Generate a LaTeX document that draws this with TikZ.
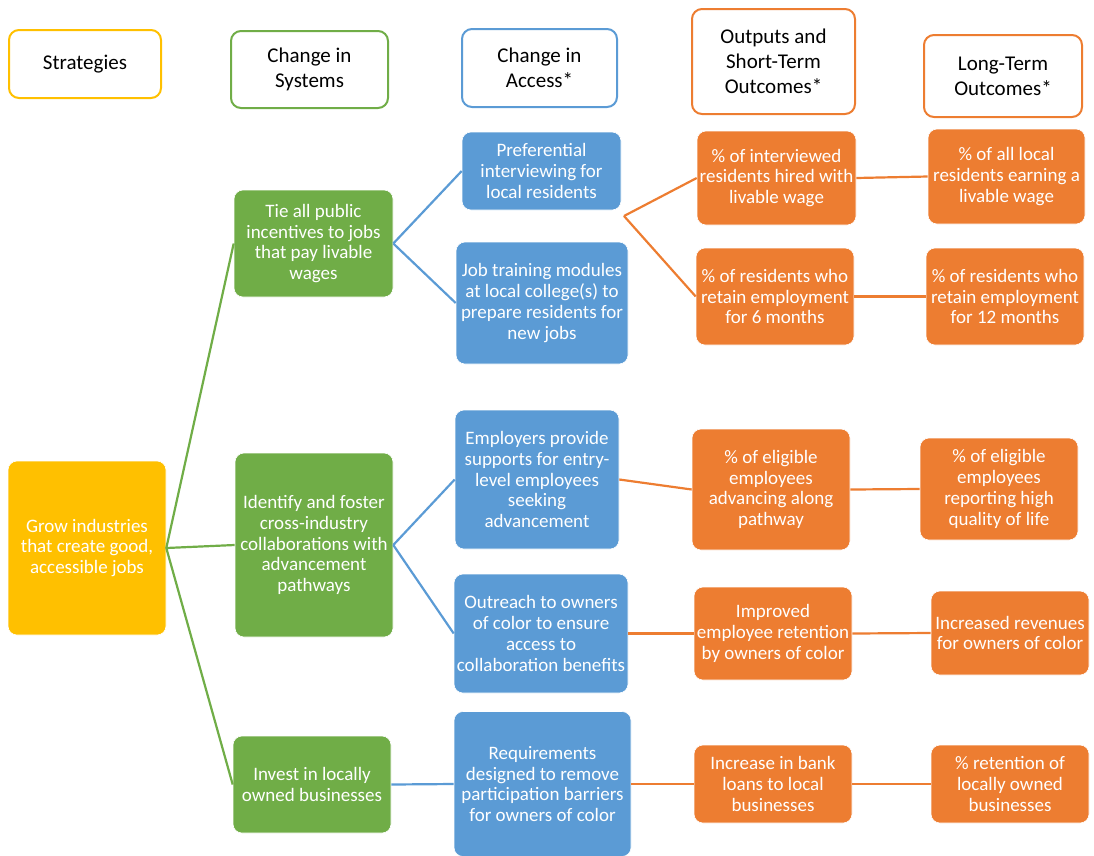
\documentclass[tikz,border=0pt]{standalone}
\usepackage{fontspec}
\setmainfont{Carlito}
\definecolor{cyel}{HTML}{FFC000}
\definecolor{cgrn}{HTML}{70AD47}
\definecolor{cblu}{HTML}{5B9BD5}
\definecolor{corg}{HTML}{ED7D31}
\begin{document}
\begin{tikzpicture}[x=1pt,y=-1pt,
  hdr/.style={draw=#1, line width=2pt, fill=white, rounded corners=10pt, inner sep=0pt, align=center, text=black,
    font=\fontsize{21pt}{25pt}\selectfont},
  box/.style={draw=white, line width=0.6pt, fill=#1, rounded corners=9pt, inner sep=0pt, align=center, text=white,
    font=\fontsize{19pt}{20.8pt}\selectfont},
  con/.style={draw=#1, line width=2.2pt}
]
\useasboundingbox (0,0) rectangle (1094,855);
% headers
\node[hdr=cyel, minimum width=152pt, minimum height=68pt] (hstr) at (85,64) {Strategies};
\node[hdr=cgrn, minimum width=157pt, minimum height=77pt] (hsys) at (309.5,69.5) {Change in\\Systems};
\node[hdr=cblu, minimum width=155pt, minimum height=78pt] (hacc) at (539.5,68) {Change in\\Access*};
\node[hdr=corg, minimum width=163pt, minimum height=105pt] (hout) at (773.5,61.5) {Outputs and\\Short-Term\\Outcomes*};
\node[hdr=corg, minimum width=158pt, minimum height=82pt] (hlto) at (1003,76) {Long-Term\\Outcomes*};
% strategy
\node[box=cyel, minimum width=158pt, minimum height=174pt] (grow) at (87,548) {Grow industries\\that create good,\\accessible jobs};
% systems
\node[box=cgrn, minimum width=159pt, minimum height=107pt] (tie) at (313.5,243.5) {Tie all public\\incentives to jobs\\that pay livable\\wages};
\node[box=cgrn, minimum width=158pt, minimum height=184pt] (ident) at (314,545) {Identify and foster\\cross-industry\\collaborations with\\advancement\\pathways};
\node[box=cgrn, minimum width=158pt, minimum height=97pt] (invest) at (312,784.5) {Invest in locally\\owned businesses};
% access
\node[box=cblu, minimum width=159pt, minimum height=78pt] (pref) at (541.5,171) {Preferential\\interviewing for\\local residents};
\node[box=cblu, minimum width=172pt, minimum height=122pt] (jobtr) at (542,303) {Job training modules\\at local college(s) to\\prepare residents for\\new jobs};
\node[box=cblu, minimum width=164pt, minimum height=139pt] (empl) at (537,479.5) {Employers provide\\supports for entry-\\level employees\\seeking\\advancement};
\node[box=cblu, minimum width=174pt, minimum height=119pt] (outr) at (541,633.5) {Outreach to owners\\of color to ensure\\access to\\collaboration benefits};
\node[box=cblu, minimum width=177pt, minimum height=145pt] (req) at (542.5,784) {Requirements\\designed to remove\\participation barriers\\for owners of color};
% short-term
\node[box=corg, minimum width=159pt, minimum height=94pt] (intv) at (776.5,178) {\% of interviewed\\residents hired with\\livable wage};
\node[box=corg, minimum width=158pt, minimum height=97pt] (six) at (775,296.5) {\% of residents who\\retain employment\\for 6 months};
\node[box=corg, minimum width=158pt, minimum height=121pt] (elig) at (771,489.5) {\% of eligible\\employees\\advancing along\\pathway};
\node[box=corg, minimum width=158pt, minimum height=93pt] (impr) at (773,633.5) {Improved\\employee retention\\by owners of color};
\node[box=corg, minimum width=158pt, minimum height=78pt] (bank) at (773,784) {Increase in bank\\loans to local\\businesses};
% long-term
\node[box=corg, minimum width=157pt, minimum height=95pt] (alll) at (1006.5,176.5) {\% of all local\\residents earning a\\livable wage};
\node[box=corg, minimum width=158pt, minimum height=97pt] (twelve) at (1005,296.5) {\% of residents who\\retain employment\\for 12 months};
\node[box=corg, minimum width=158pt, minimum height=102pt] (rep) at (999,489) {\% of eligible\\employees\\reporting high\\quality of life};
\node[box=corg, minimum width=158pt, minimum height=84pt] (rev) at (1010,633) {Increased revenues\\for owners of color};
\node[box=corg, minimum width=158pt, minimum height=78pt] (ret) at (1010,784) {\% retention of\\locally owned\\businesses};
% connectors
\coordinate (fork) at (624,216);
\draw[con=cgrn] (grow.east) -- (tie.west);
\draw[con=cgrn] (grow.east) -- (ident.west);
\draw[con=cgrn] (grow.east) -- (invest.west);
\draw[con=cblu] (tie.east) -- (pref.west);
\draw[con=cblu] (tie.east) -- (jobtr.west);
\draw[con=cblu] (ident.east) -- (empl.west);
\draw[con=cblu] (ident.east) -- (outr.west);
\draw[con=cblu] (invest.east) -- (req.west);
\draw[con=corg] (fork) -- (intv.west);
\draw[con=corg] (fork) -- (six.west);
\draw[con=corg] (intv.east) -- (alll.west);
\draw[con=corg] (six.east) -- (twelve.west);
\draw[con=corg] (empl.east) -- (elig.west);
\draw[con=corg] (elig.east) -- (rep.west);
\draw[con=corg] (outr.east) -- (impr.west);
\draw[con=corg] (impr.east) -- (rev.west);
\draw[con=corg] (req.east) -- (bank.west);
\draw[con=corg] (bank.east) -- (ret.west);
\end{tikzpicture}
\end{document}
